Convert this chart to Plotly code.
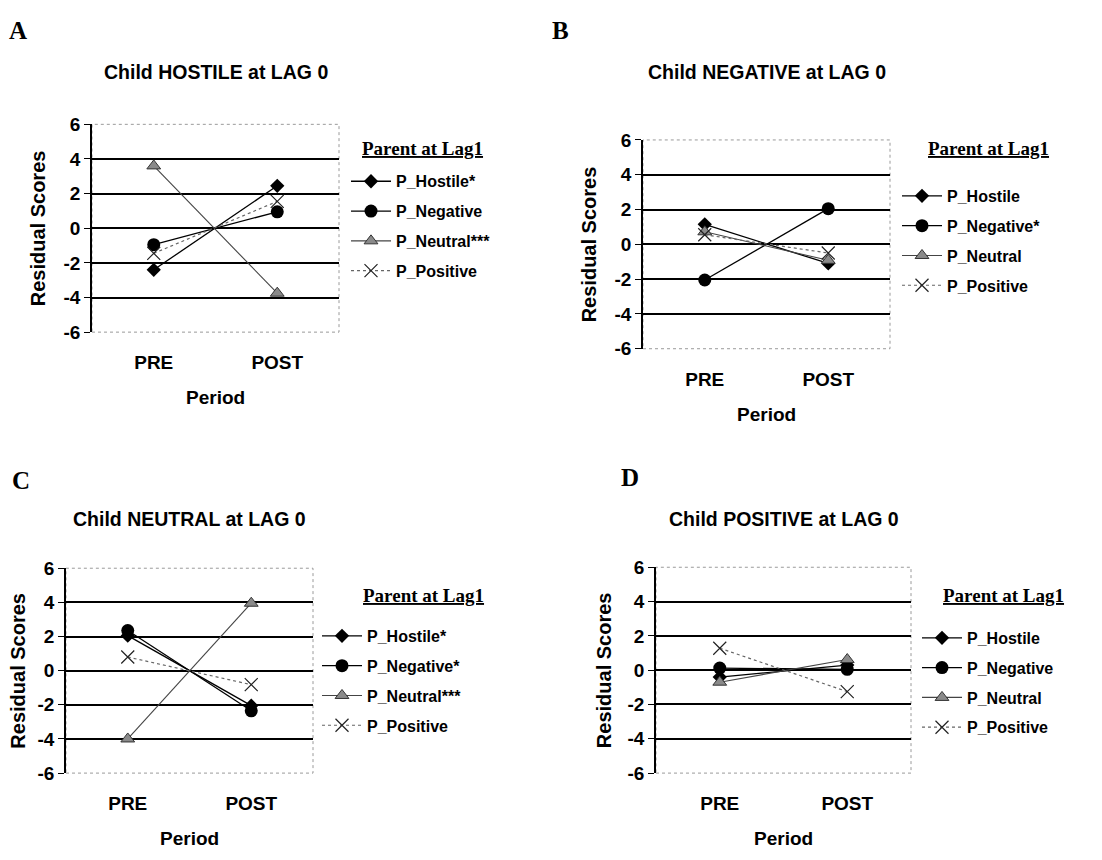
import plotly.graph_objects as go

periods = ["PRE", "POST"]

panel_letters = ["A", "B", "C", "D"]
panel_titles = ["Child HOSTILE at LAG 0", "Child NEGATIVE at LAG 0",
                "Child NEUTRAL at LAG 0", "Child POSITIVE at LAG 0"]
legend_title = "Parent at Lag1"
y_title = "Residual Scores"
x_title = "Period"
y_ticks = [-6, -4, -2, 0, 2, 4, 6]

names_A = ["P_Hostile*", "P_Negative", "P_Neutral***", "P_Positive"]
names_B = ["P_Hostile", "P_Negative*", "P_Neutral", "P_Positive"]
names_C = ["P_Hostile*", "P_Negative*", "P_Neutral***", "P_Positive"]
names_D = ["P_Hostile", "P_Negative", "P_Neutral", "P_Positive"]

# values at PRE, POST
A_hostile = [-2.4, 2.45]
A_negative = [-0.95, 0.95]
A_neutral = [3.6, -3.75]
A_positive = [-1.45, 1.55]

B_hostile = [1.15, -1.1]
B_negative = [-2.05, 2.05]
B_neutral = [0.72, -0.92]
B_positive = [0.55, -0.5]

C_hostile = [2.05, -2.05]
C_negative = [2.35, -2.35]
C_neutral = [-4.0, 3.95]
C_positive = [0.8, -0.82]

D_hostile = [-0.4, 0.3]
D_negative = [0.12, 0.05]
D_neutral = [-0.7, 0.62]
D_positive = [1.28, -1.25]

W, H = 1102, 860
OFF = 8  # page body margin

# plot area boxes in page pixels: (left, right, top, bottom)
boxes = [(92, 339, 117, 330), (643, 890, 133, 347),
         (66, 313, 572, 782), (656, 911, 571, 782)]
letter_pos = [(18, 21), (560, 21), (21, 482), (630, 479)]
title_y = [63, 63, 522, 522]
ytitle_x = [38, 589, 18, 604]
legend_title_pos = [(422, 142), (988, 142), (423, 600), (1003, 600)]
legend_pos = [(352, 180), (903, 195), (323, 646), (923, 648)]

panel_data = [
    (names_A, [A_hostile, A_negative, A_neutral, A_positive]),
    (names_B, [B_hostile, B_negative, B_neutral, B_positive]),
    (names_C, [C_hostile, C_negative, C_neutral, C_positive]),
    (names_D, [D_hostile, D_negative, D_neutral, D_positive]),
]

styles = [
    dict(line=dict(color="black", width=1.3),
         marker=dict(symbol="diamond", size=11, color="black")),
    dict(line=dict(color="black", width=1.3),
         marker=dict(symbol="circle", size=13, color="black")),
    dict(line=dict(color="#444444", width=1.1),
         marker=dict(symbol="triangle-up", size=12, color="#8a8a8a",
                     line=dict(color="#333333", width=1))),
    dict(line=dict(color="#666666", width=1.2, dash="dot"),
         marker=dict(symbol="x-thin-open", size=13, color="#222222",
                     line=dict(color="#222222", width=1.2))),
]

SANS = "Liberation Sans"
SERIF = "Liberation Serif"

fig = go.Figure()
layout = dict(width=W, height=H, margin=dict(l=0, r=0, t=0, b=0),
              paper_bgcolor="white", plot_bgcolor="white", showlegend=True)
annotations = []
shapes = []


def px(x):
    return (x - OFF) / W


def py(y):
    return 1 - (y - OFF) / H


def note(text, x, y, font, angle=0):
    annotations.append(dict(
        text=text, x=px(x), y=py(y), xref="paper", yref="paper",
        xanchor="center", yanchor="middle", showarrow=False,
        textangle=angle, font=font))


for i in range(4):
    k = "" if i == 0 else str(i + 1)
    xa, ya = "x" + k, "y" + k
    lg = "legend" + k
    names, vals = panel_data[i]
    for j in range(4):
        fig.add_trace(go.Scatter(
            x=periods, y=vals[j], name=names[j], mode="lines+markers",
            xaxis=xa, yaxis=ya, legend=lg, legendgroup=f"p{i}s{j}",
            **styles[j]))
    l, r, t, b = boxes[i]
    layout["xaxis" + k] = dict(
        domain=[px(l), px(r)], anchor=ya, type="category",
        categoryorder="array", categoryarray=periods, range=[-0.5, 1.5],
        showgrid=False, zeroline=False, showline=False, ticks="",
        ticklabelstandoff=17,
        tickfont=dict(family=SANS, size=19, color="black", weight="bold"))
    # category-boundary tick on the zero line (Excel style x axis crossing)
    layout["xaxis" + str(i + 5)] = dict(
        domain=[px(l), px(r)], overlaying=xa, anchor="free",
        position=(py(b) + py(t)) / 2, range=[-0.5, 1.5], tickvals=[0.5],
        ticks="outside", ticklen=5, tickwidth=1.2, tickcolor="black",
        showticklabels=False, showgrid=False, zeroline=False, showline=False)
    layout["yaxis" + k] = dict(
        domain=[py(b), py(t)], anchor=xa, range=[-6, 6], tickvals=y_ticks,
        ticktext=[str(v) for v in y_ticks],
        showgrid=True, gridcolor="black", gridwidth=1.7, zeroline=False,
        showline=True, linecolor="black", linewidth=1.6,
        ticks="outside", ticklen=6, tickwidth=1.4, tickcolor="black",
        tickfont=dict(family=SANS, size=19, color="black", weight="bold"))
    lx, ly = legend_pos[i]
    layout[lg] = dict(
        x=px(lx - 6), y=py(ly - 22), xanchor="left", yanchor="top",
        bgcolor="rgba(0,0,0,0)", borderwidth=0, tracegroupgap=6,
        itemwidth=40,
        font=dict(family=SANS, size=16, color="black", weight="bold"))
    shapes.append(dict(type="rect", xref=xa + " domain", yref=ya + " domain",
                       x0=0, x1=1, y0=0, y1=1, layer="below",
                       line=dict(color="#9a9a9a", width=1, dash="dot")))
    note(panel_letters[i], letter_pos[i][0], letter_pos[i][1],
         dict(family=SERIF, size=25, color="black", weight="bold"))
    note(panel_titles[i], (l + r) / 2, title_y[i],
         dict(family=SANS, size=19.5, color="black", weight="bold"))
    note(y_title, ytitle_x[i], (t + b) / 2,
         dict(family=SANS, size=20, color="black", weight="bold"), angle=-90)
    note(x_title, (l + r) / 2, b + 67,
         dict(family=SANS, size=19, color="black", weight="bold"))
    note("<u>" + legend_title + "</u>", legend_title_pos[i][0],
         legend_title_pos[i][1],
         dict(family=SERIF, size=19, color="black", weight="bold"))

layout["annotations"] = annotations
layout["shapes"] = shapes
fig.update_layout(**layout)
fig.write_html("out.html")
